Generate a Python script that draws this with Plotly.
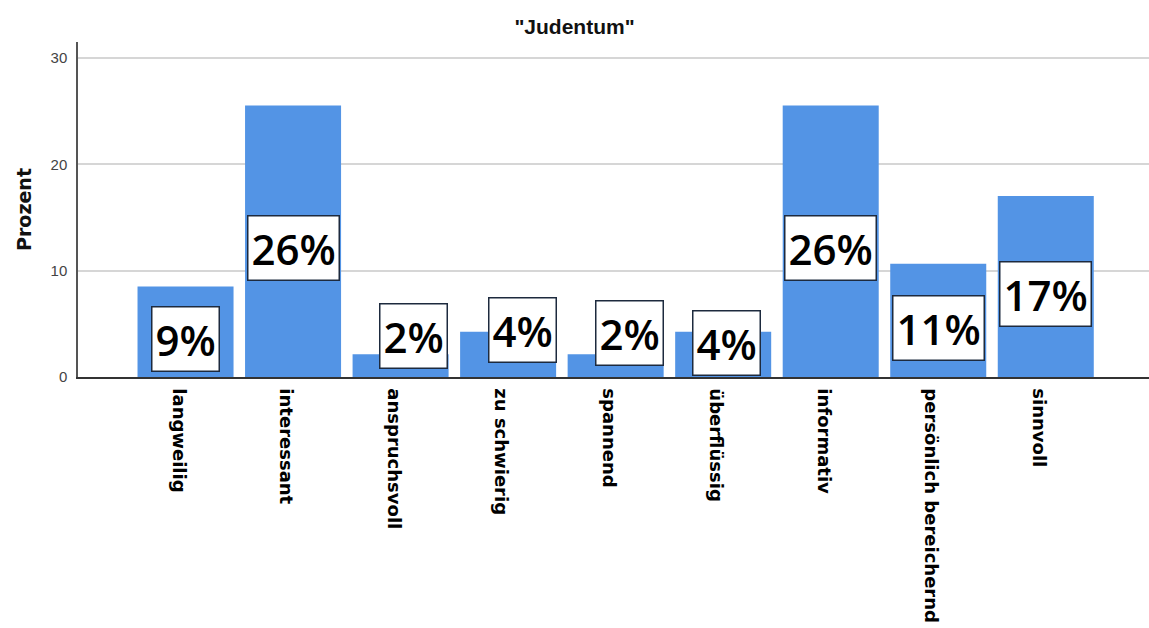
import plotly.graph_objects as go

# Antworten zur Einheit "Judentum" (Prozent der Befragten)
categories = ["langweilig", "interessant", "anspruchsvoll", "zu schwierig", "spannend",
              "überflüssig", "informativ", "persönlich bereichernd", "sinnvoll"]
percent = [8.51, 25.53, 2.13, 4.26, 2.13, 4.26, 25.53, 10.64, 17.02]

# Lage der Wertebeschriftungen (y in Prozent, seitlicher Versatz in Pixeln)
label_y = [3.58, 12.1, 3.81, 4.46, 4.11, 3.17, 12.12, 4.64, 7.8]
label_dx = [0, 0, 13, 14, 14, 3, 0, 0, 0]

BAR_COLOR = "#5394E5"

fig = go.Figure(go.Bar(
    x=categories,
    y=percent,
    marker=dict(color=BAR_COLOR, line=dict(width=0)),
    hoverinfo="x+y",
))

for cat, val, ly, dx in zip(categories, percent, label_y, label_dx):
    fig.add_annotation(
        x=cat, y=ly, xref="x", yref="y",
        text=f"{int(val + 0.5)}%",
        showarrow=False,
        xshift=dx,
        font=dict(family="Open Sans", size=42, color="#000000", weight=600),
        bgcolor="#ffffff",
        bordercolor="#1d2a3e",
        borderwidth=1.5,
        borderpad=3,
    )

fig.update_layout(
    width=1149, height=628,
    margin=dict(l=78, r=0, t=42, b=251),
    paper_bgcolor="#ffffff",
    plot_bgcolor="#ffffff",
    bargap=0.107,
    showlegend=False,
    title=dict(
        text='"Judentum"',
        x=0.5, xref="container", xanchor="center",
        y=1 - 27 / 628, yref="container", yanchor="middle",
        font=dict(family="Liberation Sans", size=21, color="#111111", weight="bold"),
    ),
    xaxis=dict(
        type="category",
        range=[-1, 8.96],
        showgrid=False,
        showline=True, linecolor="#333333", linewidth=1.5,
        ticks="",
        tickangle=90,
        ticklabelstandoff=6,
        ticklabelshift=-7,
        tickfont=dict(family="DejaVu Sans", size=18, color="#000000", weight="bold"),
    ),
    yaxis=dict(
        range=[0, 31.5],
        tickvals=[0, 10, 20, 30],
        showgrid=True, gridcolor="#d6d6d6", gridwidth=1.5,
        zeroline=False,
        showline=True, linecolor="#555555", linewidth=1.5,
        ticks="",
        ticklabelstandoff=6,
        tickfont=dict(family="Liberation Sans", size=15, color="#444444"),
        title=dict(text="Prozent", standoff=14,
                   font=dict(family="DejaVu Sans", size=19, color="#111111", weight="bold")),
    ),
)

fig.write_html("out.html")
